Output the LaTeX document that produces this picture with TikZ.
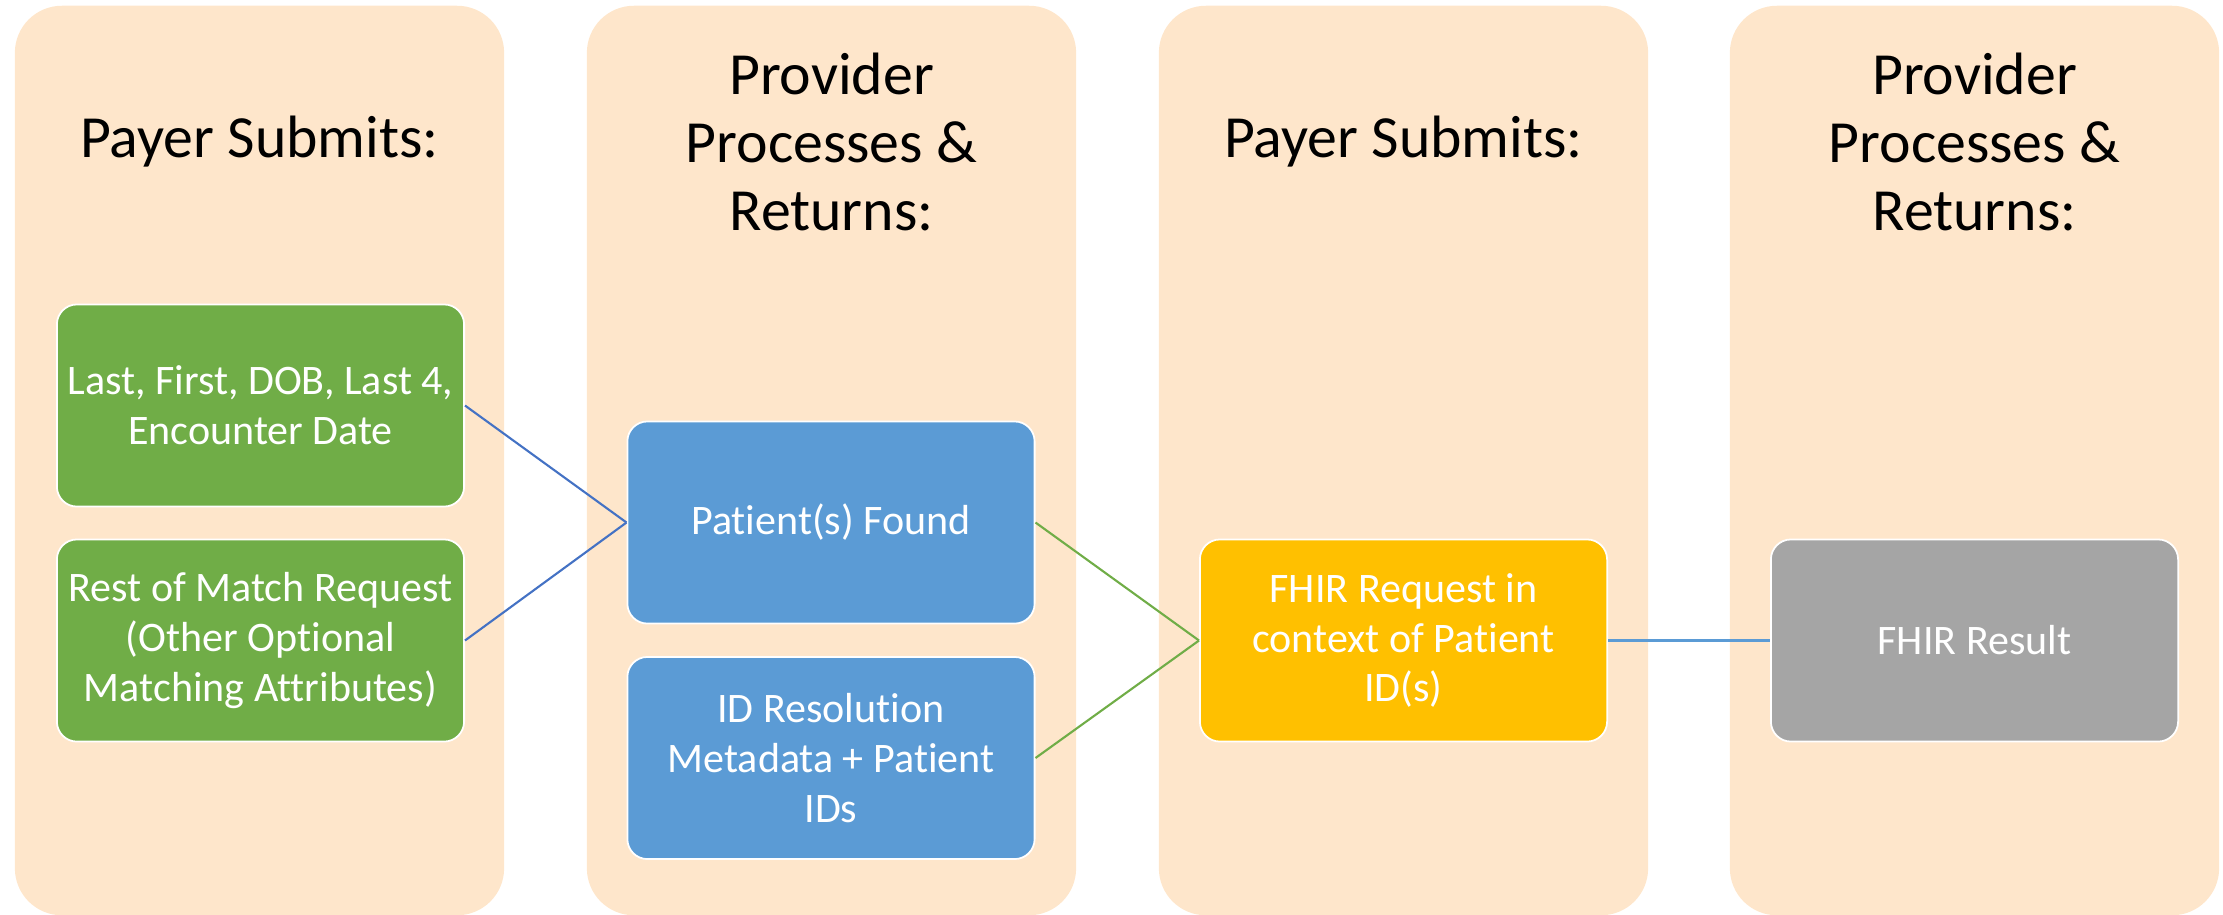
\documentclass[tikz,border=0pt]{standalone}
\usepackage{fontspec}
\setmainfont[Ligatures=CommonOff]{Carlito}
\definecolor{colfill}{HTML}{FEE6CB}
\definecolor{cgreen}{HTML}{70AD47}
\definecolor{cblue}{HTML}{5B9BD5}
\definecolor{cyellow}{HTML}{FFC000}
\definecolor{cgray}{HTML}{A5A5A5}
\definecolor{lineblue}{HTML}{4472C4}
\begin{document}
\begin{tikzpicture}[x=0.01cm,y=-0.01cm,
  column/.style={fill=colfill, draw=none, rounded corners=0.47cm, minimum width=4.89cm, minimum height=9.09cm, inner sep=0pt},
  title/.style={align=center, font=\fontsize{17}{19.3}\selectfont, text=black},
  box/.style={draw=white, line width=0.5pt, rounded corners=0.2cm, minimum width=4.07cm, minimum height=2.02cm, align=center, text=white, font=\fontsize{11.95}{14.2}\selectfont, inner sep=2pt},
  conn/.style={line width=0.6pt}]
\useasboundingbox (0,0) rectangle (2223,914);
% columns
\node[column] (c1) at (259.5,460.5) {};
\node[column] (c2) at (831.5,460.5) {};
\node[column] (c3) at (1403.5,460.5) {};
\node[column] (c4) at (1974.5,460.5) {};
% titles
\node[title] (t1) at (259.5,142) {Payer Submits:};
\node[title] (t2) at (831.5,142) {Provider\\Processes \&\\Returns:};
\node[title] (t3) at (1403.5,142) {Payer Submits:};
\node[title] (t4) at (1974.5,142) {Provider\\Processes \&\\Returns:};
% boxes
\node[box, fill=cgreen] (g1) at (260.5,405.5) {Last, First, DOB, Last 4,\\Encounter Date};
\node[box, fill=cgreen] (g2) at (260.5,640.5) {Rest of Match Request\\(Other Optional\\Matching Attributes)};
\node[box, fill=cblue] (b1) at (831,522.5) {Patient(s) Found};
\node[box, fill=cblue] (b2) at (831,758) {ID Resolution\\Metadata + Patient\\IDs};
\node[box, fill=cyellow] (y1) at (1403.5,640.5) {FHIR Request in\\context of Patient\\ID(s)};
\node[box, fill=cgray] (r1) at (1974.5,640.5) {FHIR Result};
% connectors
\draw[conn, lineblue] (g1.east) -- (b1.west);
\draw[conn, lineblue] (g2.east) -- (b1.west);
\draw[conn, cgreen] (b1.east) -- (y1.west);
\draw[conn, cgreen] (b2.east) -- (y1.west);
\draw[conn, cblue, line width=0.8pt] (y1.east) -- (r1.west);
\end{tikzpicture}
\end{document}
